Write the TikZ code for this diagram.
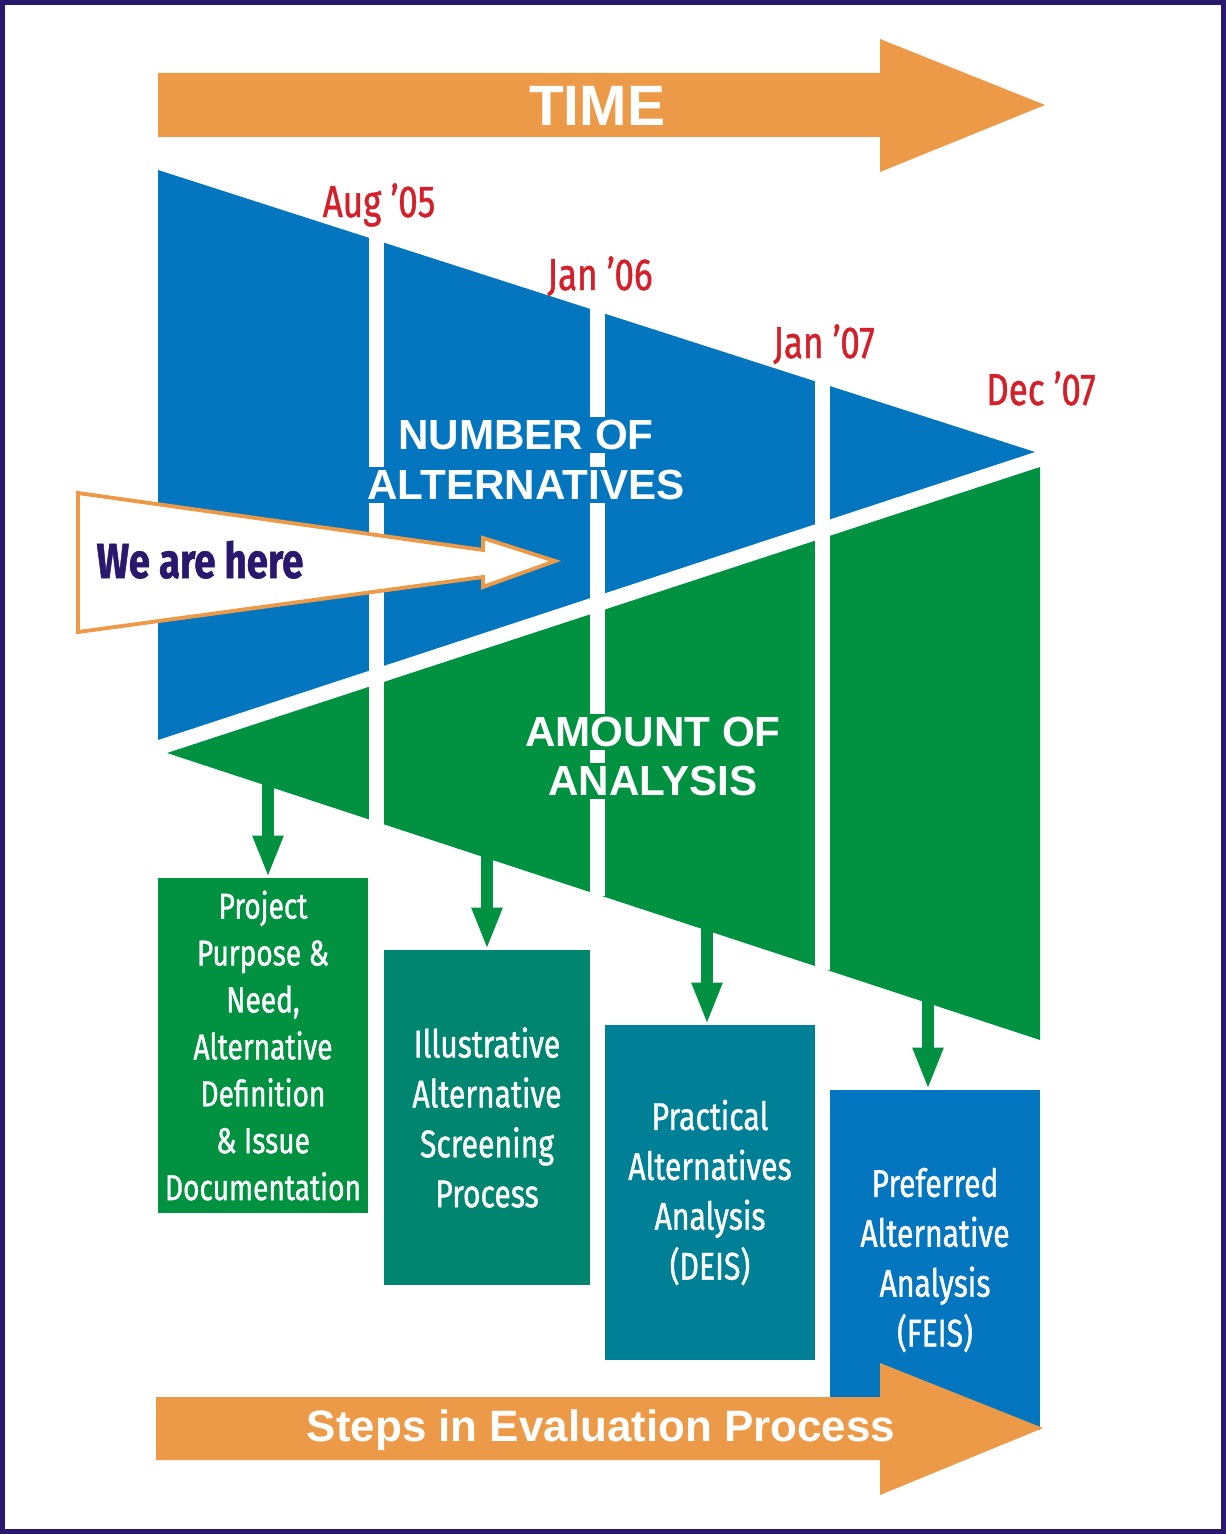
\documentclass[tikz,border=0pt]{standalone}
\usepackage{fontspec}
\setmainfont{Liberation Sans}
\newfontfamily\narrowfont[FakeStretch=0.78,FakeBold=1]{Fira Sans}
\usetikzlibrary{positioning,arrows.meta}

\definecolor{timeOrange}{RGB}{237,154,72}
\definecolor{alterBlue}{RGB}{4,118,192}
\definecolor{analysisGreen}{RGB}{0,146,64}
\definecolor{screenTeal}{RGB}{0,133,112}
\definecolor{deisTeal}{RGB}{0,128,150}
\definecolor{dateRed}{RGB}{212,32,42}
\definecolor{frameNavy}{RGB}{40,24,110}

\tikzstyle{stepBox}=[minimum width=4.2cm, minimum height=6.7cm, inner sep=0pt, align=center, text=white, font=\narrowfont\fontsize{22}{28.4}\selectfont]
\tikzstyle{stepArrow}=[-{Triangle[length=24pt,width=16pt]}, line width=6.5pt, analysisGreen]
\tikzstyle{gapLine}=[white, line width=0.3cm]
\tikzstyle{dateLabel}=[text=dateRed, anchor=base, inner sep=0pt, font=\narrowfont\fontsize{25.5}{30}\selectfont]
\tikzstyle{bigLabel}=[text=white, align=center, inner sep=1.5pt, font=\bfseries\fontsize{24}{28.5}\selectfont]

\begin{document}
\begin{tikzpicture}[x=0.02cm, y=-0.02cm]
	\useasboundingbox (0,0) rectangle (1226,1534);
	\fill[white] (0,0) rectangle (1226,1534);
	\draw[frameNavy, line width=0.1cm] (2.5,2.5) rectangle (1223.5,1531.5);
	
	% time arrow
	\fill[timeOrange] (158,73) -- (880,73) -- (880,39) -- (1045,105) -- (880,172) -- (880,137) -- (158,137) -- cycle;
	\node[bigLabel, font=\bfseries\fontsize{32.4}{36}\selectfont] (time) at (597,106) {TIME};
	
	% the two wedges
	\fill[alterBlue] (158,170) -- (1035,452) -- (158,740) -- cycle;
	\fill[analysisGreen] (167,753) -- (1040,467) -- (1040,1040) -- cycle;
	
	\draw[gapLine] (376,238) -- (376,825);
	\draw[gapLine] (597,309) -- (597,896);
	\draw[gapLine] (822,381) -- (822,970);
	
	\node[dateLabel] (aug05) at (379,217) {Aug ’05};
	\node[dateLabel] (jan06) at (600,290) {Jan ’06};
	\node[dateLabel] (jan07) at (824,358) {Jan ’07};
	\node[dateLabel] (dec07) at (1041,405) {Dec ’07};
	
	\node[bigLabel, fill=alterBlue] (number) at (526,435) {NUMBER OF};
	\node[bigLabel, fill=alterBlue] (alternatives) at (526,485) {ALTERNATIVES};
	\node[bigLabel, fill=analysisGreen] (amount) at (653,732) {AMOUNT OF};
	\node[bigLabel, fill=analysisGreen] (analysis) at (653,781) {ANALYSIS};
	
	% we are here
	\filldraw[fill=white, draw=timeOrange, line width=2.2pt, line join=miter] (78,493) -- (483,550) -- (483,538) -- (555,561) -- (483,587) -- (483,577) -- (78,632) -- cycle;
	\node[text=frameNavy, anchor=base, inner sep=0pt, font=\narrowfont\bfseries\fontsize{28}{34}\selectfont] (here) at (200,578) {We are here};
	
	% steps
	\node[stepBox, fill=analysisGreen, font=\narrowfont\fontsize{20.5}{26.7}\selectfont] (box1) at (263,1045.5) {Project\\Purpose \&\\Need,\\Alternative\\Definition\\\& Issue\\Documentation};
	\node[stepBox, fill=screenTeal, minimum width=4.12cm] (box2) at (487,1117.5) {Illustrative\\Alternative\\Screening\\Process};
	\node[stepBox, fill=deisTeal] (box3) at (710,1192.5) {Practical\\Alternatives\\Analysis\\(DEIS)};
	\node[stepBox, fill=alterBlue, minimum height=6.8cm] (box4) at (935,1260) {Preferred\\Alternative\\Analysis\\(FEIS)};
	
	\coordinate (a1) at (268,775);
	\coordinate (a2) at (487,845);
	\coordinate (a3) at (707,918);
	\coordinate (a4) at (928,990);
	
	\draw[stepArrow] (a1) -- (a1 |- box1.north);
	\draw[stepArrow] (a2) -- (a2 |- box2.north);
	\draw[stepArrow] (a3) -- (a3 |- box3.north);
	\draw[stepArrow] (a4) -- (a4 |- box4.north);
	
	% steps arrow
	\fill[timeOrange] (156,1397) -- (880,1397) -- (880,1363) -- (1043,1428) -- (880,1495) -- (880,1460) -- (156,1460) -- cycle;
	\node[bigLabel, font=\bfseries\fontsize{25}{30}\selectfont] (steps) at (601,1430) {Steps in Evaluation Process};
\end{tikzpicture}
\end{document}
